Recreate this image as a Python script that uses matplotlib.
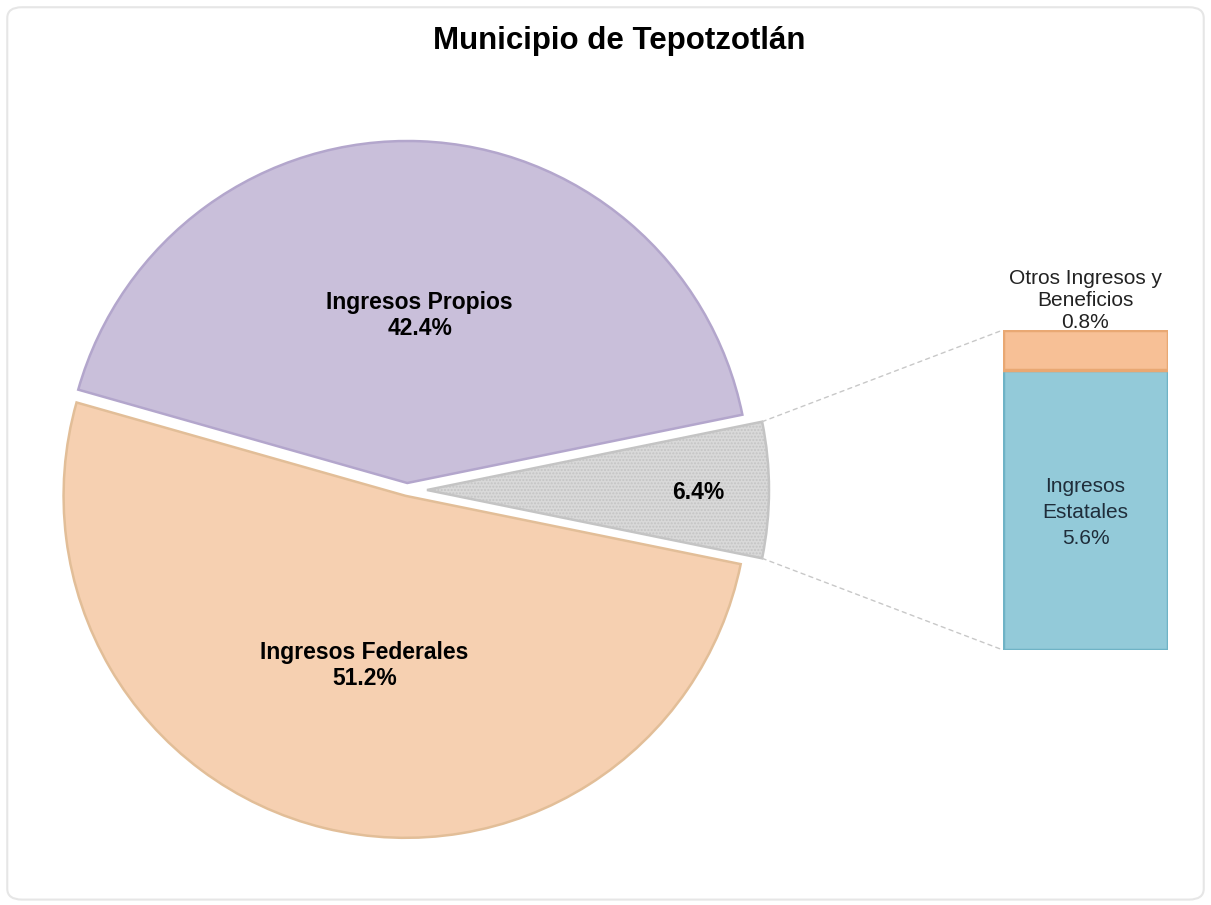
import numpy as np
import matplotlib.pyplot as plt
from matplotlib.patches import FancyBboxPatch, ConnectionPatch

plt.rcParams['font.family'] = ['Liberation Sans', 'DejaVu Sans']

# datos
titulo = 'Municipio de Tepotzotlán'
pie_labels = ['', 'Ingresos Propios', 'Ingresos Federales']
propios = 42.4
federales = 51.2
bar_labels = ['Ingresos\nEstatales', 'Otros Ingresos y\nBeneficios']
bar_values = [5.6, 0.8]
otros_total = 6.4

pie_values = [otros_total, propios, federales]
pie_colors = ['#D9D9D9', '#C9BFDA', '#F6D0B1']
pie_edges = ['#A6A6A6', '#B3A6CC', '#E2BE98']
bar_colors = ['#93CAD9', '#F7C096']
bar_edges = ['#6FB3C6', '#E9A873']

fig = plt.figure(figsize=(12.11, 9.05), dpi=100)
fig.patch.set_facecolor('white')
fig.patches.append(FancyBboxPatch((0.006, 0.006), 0.988, 0.986,
                                  boxstyle='round,pad=0,rounding_size=0.012',
                                  transform=fig.transFigure, facecolor='white',
                                  edgecolor='#E6E6E6', linewidth=1.5, zorder=-5))

ax = fig.add_axes([0, 0, 1, 1])
ax.set_xlim(0, 1211)
ax.set_ylim(0, 905)
ax.set_aspect('equal')
ax.axis('off')

cx, cy, r = 407, 415, 342
# explode en unidades de datos (pixeles)
wedges, _ = ax.pie(pie_values, colors=pie_colors, explode=[20, 7, 6],
                   startangle=-otros_total * 3.6 / 2, radius=r, center=(cx, cy),
                   counterclock=True, normalize=True,
                   wedgeprops=dict(linewidth=1.8))
for w, ec in zip(wedges, pie_edges):
    w.set_edgecolor(ec)
wedges[0].set_hatch('.....')
wedges[0].set_edgecolor('#C4C4C4')
ax.set_xlim(0, 1211)
ax.set_ylim(0, 905)

def label_pos(w, frac):
    ang = np.deg2rad((w.theta1 + w.theta2) / 2)
    x0, y0 = w.center
    return x0 + frac * w.r * np.cos(ang), y0 + frac * w.r * np.sin(ang)

x, y = label_pos(wedges[1], 0.49)
ax.text(x + 6, y, f'{pie_labels[1]}\n{propios}%', ha='center', va='center',
        fontsize=16.5, fontweight='bold', linespacing=1.2)
x, y = label_pos(wedges[2], 0.51)
ax.text(x, y, f'{pie_labels[2]}\n{federales}%', ha='center', va='center',
        fontsize=16.5, fontweight='bold', linespacing=1.2)
x, y = label_pos(wedges[0], 0.8)
ax.text(x - 2, y - 3, f'{otros_total}%', ha='center', va='center',
        fontsize=16.5, fontweight='bold')

fig.text(0.511, 0.955, titulo, ha='center', va='center', fontsize=22.5,
         fontweight='bold')

# barra apilada
bax = fig.add_axes([1003 / 1211, (905 - 650) / 905, 165 / 1211, 320 / 905])
bottom = 0
for v, c, ec in zip(bar_values, bar_colors, bar_edges):
    bax.bar(0, v, width=1, bottom=bottom, color=c, edgecolor=ec, linewidth=2.5)
    bottom += v
bax.set_xlim(-0.5, 0.5)
bax.set_ylim(0, sum(bar_values))
bax.axis('off')

bax.text(0, bar_values[0] / 2 - 0.05, f'{bar_labels[0]}\n{bar_values[0]}%',
         ha='center', va='center', fontsize=15, color='#1F2D3A', linespacing=1.5)
bax.text(0, sum(bar_values) - 0.03, f'{bar_labels[1]}\n{bar_values[1]}%',
         ha='center', va='bottom', fontsize=15, color='#222222', linespacing=1.2,
         clip_on=False)

# lineas de conexion
g = wedges[0]
for th, yb in [(g.theta2, sum(bar_values)), (g.theta1, 0)]:
    xa = g.center[0] + g.r * np.cos(np.deg2rad(th))
    ya = g.center[1] + g.r * np.sin(np.deg2rad(th))
    con = ConnectionPatch(xyA=(xa, ya), coordsA=ax.transData,
                          xyB=(-0.5, yb), coordsB=bax.transData,
                          color='#C8C8C8', linestyle=(0, (3, 3)), linewidth=1)
    fig.add_artist(con)

fig.savefig('out.png', dpi=100, facecolor='white')
